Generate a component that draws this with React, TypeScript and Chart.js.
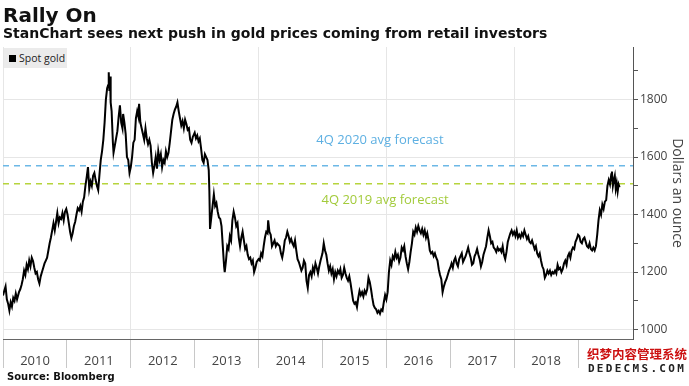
import React, { useEffect, useRef } from "react";
import { Chart, registerables } from "chart.js";

Chart.register(...registerables);

// Spot gold, US$ per ounce, [decimal year, price]
const gold2010: [number, number][] = [
  [2010.0, 1118], [2010.02, 1135], [2010.04, 1150], [2010.06, 1105], [2010.08, 1090], [2010.1, 1066],
  [2010.12, 1095], [2010.14, 1080], [2010.16, 1110], [2010.18, 1100], [2010.2, 1125], [2010.22, 1105],
  [2010.25, 1130], [2010.27, 1140], [2010.29, 1155], [2010.31, 1175], [2010.33, 1205], [2010.35, 1190],
  [2010.37, 1225], [2010.39, 1210], [2010.41, 1240], [2010.43, 1220], [2010.45, 1250], [2010.47, 1238],
  [2010.49, 1215], [2010.51, 1195], [2010.53, 1200], [2010.55, 1175], [2010.57, 1160], [2010.59, 1185],
  [2010.61, 1200], [2010.63, 1215], [2010.65, 1230], [2010.67, 1240], [2010.69, 1250], [2010.71, 1275],
  [2010.73, 1300], [2010.75, 1320], [2010.77, 1345], [2010.79, 1370], [2010.81, 1345], [2010.83, 1375],
  [2010.85, 1405], [2010.87, 1370], [2010.89, 1390], [2010.91, 1385], [2010.93, 1405], [2010.95, 1380],
  [2010.97, 1410], [2010.99, 1420],
];
const gold2011: [number, number][] = [
  [2011.01, 1400], [2011.03, 1370], [2011.05, 1340], [2011.07, 1318], [2011.09, 1335], [2011.11, 1360],
  [2011.13, 1375], [2011.15, 1400], [2011.17, 1422], [2011.19, 1415], [2011.21, 1430], [2011.23, 1410],
  [2011.25, 1445], [2011.27, 1460], [2011.29, 1500], [2011.31, 1530], [2011.33, 1565], [2011.35, 1490],
  [2011.37, 1515], [2011.39, 1500], [2011.41, 1535], [2011.43, 1545], [2011.45, 1520], [2011.47, 1500],
  [2011.49, 1485], [2011.51, 1540], [2011.53, 1590], [2011.55, 1620], [2011.57, 1660], [2011.59, 1720],
  [2011.61, 1800], [2011.63, 1840], [2011.645, 1850], [2011.655, 1895], [2011.665, 1830], [2011.675, 1880],
  [2011.685, 1790], [2011.7, 1760], [2011.72, 1650], [2011.73, 1615], [2011.75, 1640], [2011.77, 1665],
  [2011.79, 1690], [2011.81, 1740], [2011.83, 1780], [2011.85, 1720], [2011.87, 1700], [2011.88, 1750],
  [2011.9, 1720], [2011.92, 1680], [2011.94, 1600], [2011.96, 1590], [2011.98, 1545],
];
const gold2012: [number, number][] = [
  [2012.0, 1565], [2012.02, 1600], [2012.04, 1650], [2012.06, 1660], [2012.08, 1735], [2012.1, 1760],
  [2012.12, 1740], [2012.13, 1785], [2012.15, 1720], [2012.17, 1700], [2012.19, 1680], [2012.21, 1660],
  [2012.23, 1700], [2012.25, 1665], [2012.27, 1645], [2012.29, 1660], [2012.31, 1640], [2012.33, 1580],
  [2012.35, 1545], [2012.37, 1570], [2012.39, 1600], [2012.41, 1560], [2012.43, 1620], [2012.45, 1590],
  [2012.47, 1610], [2012.49, 1565], [2012.51, 1590], [2012.53, 1580], [2012.55, 1620], [2012.57, 1600],
  [2012.59, 1615], [2012.61, 1650], [2012.63, 1690], [2012.65, 1730], [2012.67, 1750], [2012.69, 1765],
  [2012.71, 1775], [2012.73, 1790], [2012.75, 1760], [2012.77, 1735], [2012.79, 1710], [2012.81, 1725],
  [2012.83, 1700], [2012.85, 1730], [2012.87, 1715], [2012.89, 1695], [2012.91, 1700], [2012.93, 1660],
  [2012.95, 1650], [2012.97, 1670],
];
const gold2013: [number, number][] = [
  [2013.0, 1685], [2013.02, 1665], [2013.04, 1675], [2013.06, 1655], [2013.08, 1665], [2013.1, 1630],
  [2013.12, 1590], [2013.14, 1580], [2013.16, 1610], [2013.18, 1600], [2013.2, 1590], [2013.22, 1555],
  [2013.23, 1480], [2013.24, 1350], [2013.26, 1390], [2013.28, 1430], [2013.3, 1470], [2013.32, 1430],
  [2013.34, 1440], [2013.36, 1410], [2013.38, 1390], [2013.4, 1385], [2013.42, 1360], [2013.44, 1290],
  [2013.46, 1220], [2013.47, 1200], [2013.49, 1240], [2013.51, 1290], [2013.53, 1280], [2013.55, 1325],
  [2013.57, 1310], [2013.59, 1380], [2013.61, 1410], [2013.63, 1390], [2013.65, 1360], [2013.67, 1370],
  [2013.69, 1320], [2013.71, 1290], [2013.73, 1320], [2013.75, 1340], [2013.77, 1310], [2013.79, 1280],
  [2013.81, 1290], [2013.83, 1260], [2013.85, 1245], [2013.87, 1250], [2013.89, 1230], [2013.91, 1240],
  [2013.93, 1200], [2013.95, 1215], [2013.97, 1235],
];
const gold2014: [number, number][] = [
  [2014.0, 1245], [2014.02, 1240], [2014.04, 1265], [2014.06, 1255], [2014.08, 1290], [2014.1, 1320],
  [2014.12, 1340], [2014.14, 1335], [2014.15, 1380], [2014.17, 1340], [2014.19, 1330], [2014.21, 1290],
  [2014.23, 1300], [2014.25, 1310], [2014.27, 1290], [2014.29, 1300], [2014.31, 1295], [2014.33, 1290],
  [2014.35, 1265], [2014.37, 1250], [2014.39, 1275], [2014.41, 1310], [2014.43, 1320], [2014.45, 1340],
  [2014.47, 1325], [2014.49, 1305], [2014.51, 1315], [2014.53, 1300], [2014.55, 1290], [2014.57, 1310],
  [2014.59, 1275], [2014.61, 1245], [2014.63, 1235], [2014.65, 1220], [2014.67, 1205], [2014.69, 1215],
  [2014.71, 1240], [2014.73, 1230], [2014.75, 1170], [2014.77, 1145], [2014.79, 1190], [2014.81, 1200],
  [2014.83, 1185], [2014.85, 1215], [2014.87, 1200], [2014.89, 1230], [2014.91, 1215], [2014.93, 1195],
  [2014.95, 1220], [2014.97, 1240],
];
const gold2015: [number, number][] = [
  [2015.0, 1265], [2015.02, 1300], [2015.04, 1275], [2015.06, 1260], [2015.08, 1230], [2015.1, 1205],
  [2015.12, 1220], [2015.14, 1195], [2015.16, 1210], [2015.18, 1175], [2015.2, 1200], [2015.22, 1185],
  [2015.24, 1205], [2015.26, 1195], [2015.28, 1210], [2015.3, 1180], [2015.32, 1190], [2015.34, 1215],
  [2015.36, 1195], [2015.38, 1180], [2015.4, 1170], [2015.42, 1185], [2015.44, 1160], [2015.46, 1130],
  [2015.48, 1100], [2015.5, 1090], [2015.52, 1095], [2015.54, 1078], [2015.56, 1110], [2015.58, 1135],
  [2015.6, 1120], [2015.62, 1130], [2015.64, 1115], [2015.66, 1135], [2015.68, 1125], [2015.7, 1140],
  [2015.72, 1180], [2015.74, 1165], [2015.76, 1140], [2015.78, 1110], [2015.8, 1085], [2015.82, 1075],
  [2015.84, 1070], [2015.86, 1058], [2015.88, 1065], [2015.9, 1055], [2015.92, 1070], [2015.94, 1065],
  [2015.96, 1095], [2015.98, 1120],
];
const gold2016: [number, number][] = [
  [2016.0, 1105], [2016.02, 1130], [2016.04, 1200], [2016.06, 1240], [2016.08, 1225], [2016.1, 1255],
  [2016.12, 1245], [2016.14, 1270], [2016.16, 1250], [2016.18, 1260], [2016.2, 1235], [2016.22, 1250],
  [2016.24, 1285], [2016.26, 1275], [2016.28, 1290], [2016.3, 1255], [2016.32, 1230], [2016.34, 1210],
  [2016.36, 1235], [2016.38, 1270], [2016.4, 1300], [2016.42, 1340], [2016.44, 1330], [2016.46, 1355],
  [2016.48, 1340], [2016.5, 1360], [2016.52, 1345], [2016.54, 1335], [2016.56, 1350], [2016.58, 1330],
  [2016.6, 1345], [2016.62, 1320], [2016.64, 1335], [2016.66, 1310], [2016.68, 1275], [2016.7, 1265],
  [2016.72, 1270], [2016.74, 1255], [2016.76, 1265], [2016.78, 1250], [2016.8, 1240], [2016.82, 1210],
  [2016.84, 1190], [2016.86, 1175], [2016.88, 1130], [2016.9, 1150], [2016.92, 1165], [2016.94, 1175],
  [2016.96, 1190], [2016.98, 1205],
];
const gold2017: [number, number][] = [
  [2017.0, 1215], [2017.02, 1230], [2017.04, 1215], [2017.06, 1240], [2017.08, 1250], [2017.1, 1230],
  [2017.12, 1220], [2017.14, 1245], [2017.16, 1255], [2017.18, 1265], [2017.2, 1235], [2017.22, 1245],
  [2017.24, 1255], [2017.26, 1270], [2017.28, 1285], [2017.3, 1265], [2017.32, 1250], [2017.34, 1225],
  [2017.36, 1230], [2017.38, 1255], [2017.4, 1265], [2017.42, 1280], [2017.44, 1260], [2017.46, 1245],
  [2017.48, 1220], [2017.5, 1235], [2017.52, 1260], [2017.54, 1275], [2017.56, 1290], [2017.58, 1320],
  [2017.6, 1345], [2017.62, 1325], [2017.64, 1300], [2017.66, 1305], [2017.68, 1285], [2017.7, 1280],
  [2017.72, 1270], [2017.74, 1285], [2017.76, 1275], [2017.78, 1280], [2017.8, 1270], [2017.82, 1290],
  [2017.84, 1260], [2017.86, 1245], [2017.88, 1270], [2017.9, 1305], [2017.92, 1320], [2017.94, 1335],
  [2017.96, 1345], [2017.98, 1330],
];
const gold2018: [number, number][] = [
  [2018.0, 1340], [2018.02, 1325], [2018.04, 1345], [2018.06, 1320], [2018.08, 1330], [2018.1, 1320],
  [2018.12, 1335], [2018.14, 1325], [2018.16, 1345], [2018.18, 1330], [2018.2, 1315], [2018.22, 1325],
  [2018.24, 1305], [2018.26, 1300], [2018.28, 1310], [2018.3, 1295], [2018.32, 1280], [2018.34, 1290],
  [2018.36, 1265], [2018.38, 1255], [2018.4, 1265], [2018.42, 1240], [2018.44, 1220], [2018.46, 1210],
  [2018.48, 1180], [2018.5, 1190], [2018.52, 1205], [2018.54, 1195], [2018.56, 1205], [2018.58, 1190],
  [2018.6, 1200], [2018.62, 1195], [2018.64, 1205], [2018.66, 1195], [2018.68, 1225], [2018.7, 1210],
  [2018.72, 1215], [2018.74, 1200], [2018.76, 1210], [2018.78, 1230], [2018.8, 1240], [2018.82, 1225],
  [2018.84, 1255], [2018.86, 1265], [2018.88, 1250], [2018.9, 1275], [2018.92, 1285], [2018.94, 1280],
  [2018.96, 1305], [2018.98, 1315],
];
const gold2019: [number, number][] = [
  [2019.0, 1330], [2019.02, 1325], [2019.04, 1305], [2019.06, 1300], [2019.08, 1315], [2019.1, 1320],
  [2019.12, 1305], [2019.14, 1290], [2019.16, 1285], [2019.18, 1300], [2019.2, 1280], [2019.22, 1275],
  [2019.24, 1285], [2019.26, 1275], [2019.28, 1290], [2019.3, 1330], [2019.32, 1380], [2019.34, 1415],
  [2019.36, 1400], [2019.38, 1435], [2019.4, 1420], [2019.42, 1445], [2019.44, 1450], [2019.46, 1500],
  [2019.48, 1520], [2019.5, 1505], [2019.52, 1540], [2019.53, 1550], [2019.545, 1500], [2019.56, 1520],
  [2019.575, 1535], [2019.59, 1490], [2019.605, 1510], [2019.62, 1480], [2019.635, 1505], [2019.65, 1495],
];

const forecast4Q2020 = 1570;
const forecast4Q2019 = 1507;
const yearTicks = [2010, 2011, 2012, 2013, 2014, 2015, 2016, 2017, 2018, 2019];
const gridYears = [2010, 2012, 2014, 2016, 2018];
const priceLabels = [1000, 1200, 1400, 1600, 1800];
const xMin = 2010;
const xMax = 2019.86;
const yMin = 967;
const yMax = 1983;

export default function App() {
  const ref = useRef<HTMLCanvasElement>(null);

  useEffect(() => {
    const spot = [
      ...gold2010, ...gold2011, ...gold2012, ...gold2013, ...gold2014,
      ...gold2015, ...gold2016, ...gold2017, ...gold2018, ...gold2019,
    ].map(([x, y]) => ({ x, y }));

    const forecastLabels = {
      id: "forecastLabels",
      afterDatasetsDraw(chart: any) {
        const { ctx, scales } = chart;
        const xs = scales.x;
        const ys = scales.y;
        ctx.save();
        ctx.font = '13px "Open Sans"';
        ctx.textAlign = "center";
        ctx.textBaseline = "middle";
        ctx.fillStyle = "#5eb0e2";
        ctx.fillText("4Q 2020 avg forecast", xs.getPixelForValue(2015.9), ys.getPixelForValue(forecast4Q2020) - 25);
        ctx.fillStyle = "#a3cb3c";
        ctx.fillText("4Q 2019 avg forecast", xs.getPixelForValue(2015.98), ys.getPixelForValue(forecast4Q2019) + 16);
        ctx.restore();
      },
    };

    Chart.defaults.font.family = '"Open Sans"';

    const chart = new Chart(ref.current as HTMLCanvasElement, {
      type: "line",
      data: {
        datasets: [
          {
            label: "Spot gold",
            data: spot,
            borderColor: "#000000",
            borderWidth: 2,
            pointRadius: 0,
            tension: 0,
          },
          {
            label: "4Q 2020 avg forecast",
            data: [{ x: xMin, y: forecast4Q2020 }, { x: xMax, y: forecast4Q2020 }],
            borderColor: "#6cb8e6",
            borderDash: [6, 5],
            borderWidth: 1.5,
            pointRadius: 0,
          },
          {
            label: "4Q 2019 avg forecast",
            data: [{ x: xMin, y: forecast4Q2019 }, { x: xMax, y: forecast4Q2019 }],
            borderColor: "#b6d43c",
            borderDash: [6, 5],
            borderWidth: 1.5,
            pointRadius: 0,
          },
        ],
      },
      options: {
        animation: false,
        responsive: false,
        layout: { padding: { left: 3, top: 47, right: 0, bottom: 18 } },
        plugins: {
          legend: { display: false },
          title: { display: false },
          tooltip: { enabled: false },
        },
        scales: {
          x: {
            type: "linear",
            min: xMin,
            max: xMax,
            afterBuildTicks: (scale: any) => {
              scale.ticks = yearTicks.map((v) => ({ value: v }));
            },
            afterFit: (scale: any) => {
              scale.height = 29;
            },
            ticks: {
              autoSkip: false,
              maxRotation: 0,
              labelOffset: 32,
              padding: -15,
              color: "#444444",
              font: { size: 13, family: '"Open Sans"' },
              callback: (v: any) => String(v),
            },
            grid: {
              drawTicks: true,
              tickLength: 29,
              tickColor: "#c8c8c8",
              color: (ctx: any) =>
                ctx.tick && gridYears.includes(ctx.tick.value) ? "#e6e6e6" : "rgba(0,0,0,0)",
            },
            border: { display: true, color: "#666666", width: 1 },
          },
          y: {
            type: "linear",
            position: "right",
            min: yMin,
            max: yMax,
            afterFit: (scale: any) => {
              scale.width = 56;
            },
            ticks: {
              stepSize: 100,
              includeBounds: false,
              padding: 2,
              color: "#444444",
              font: { size: 12, family: '"Open Sans"' },
              callback: (v: any) => (priceLabels.includes(v) ? String(v) : ""),
            },
            grid: {
              drawTicks: true,
              tickLength: 5,
              tickColor: "#555555",
              color: (ctx: any) =>
                ctx.tick && priceLabels.includes(ctx.tick.value) ? "#e6e6e6" : "rgba(0,0,0,0)",
            },
            border: { display: true, color: "#555555", width: 1 },
            title: {
              display: true,
              text: "Dollars an ounce",
              color: "#444444",
              font: { size: 14, family: '"Open Sans"' },
              padding: { top: 4, bottom: 4 },
            },
          },
        },
      },
      plugins: [forecastLabels],
    });
    return () => chart.destroy();
  }, []);

  return (
    <div style={{ position: "absolute", left: 0, top: 0, width: 689, height: 386, background: "#ffffff", overflow: "hidden" }}>
      <canvas ref={ref} width={689} height={386} style={{ position: "absolute", left: 0, top: 0 }} />
      <div style={{ position: "absolute", left: 3, top: 4, font: 'bold 20px "DejaVu Sans"', color: "#111", lineHeight: "23px", whiteSpace: "nowrap" }}>
        Rally On
      </div>
      <div style={{ position: "absolute", left: 3, top: 25, font: 'bold 14px "DejaVu Sans"', color: "#111", lineHeight: "17px", whiteSpace: "nowrap" }}>
        StanChart sees next push in gold prices coming from retail investors
      </div>
      <div style={{ position: "absolute", left: 4, top: 48, width: 63, height: 20, background: "#ebebeb", display: "flex", alignItems: "center", whiteSpace: "nowrap" }}>
        <span style={{ display: "inline-block", width: 7, height: 7, background: "#000", marginLeft: 5, marginRight: 3 }} />
        <span style={{ font: '10.5px "Open Sans"', color: "#222" }}>Spot gold</span>
      </div>
      <div style={{ position: "absolute", left: 7, top: 371, font: 'bold 10px "DejaVu Sans"', color: "#111", lineHeight: "12px", whiteSpace: "nowrap" }}>
        Source: Bloomberg
      </div>
      <div style={{ position: "absolute", left: 585, top: 346, width: 104, height: 34, background: "#ffffff", textAlign: "center", whiteSpace: "nowrap" }}>
        <div style={{ font: 'bold 12.5px "Noto Sans CJK SC"', color: "#cc1111", lineHeight: "16px" }}>织梦内容管理系统</div>
        <div style={{ font: 'bold 11px "DejaVu Sans Mono"', color: "#222", lineHeight: "14px", letterSpacing: 2.3 }}>DEDECMS.COM</div>
      </div>
    </div>
  );
}
